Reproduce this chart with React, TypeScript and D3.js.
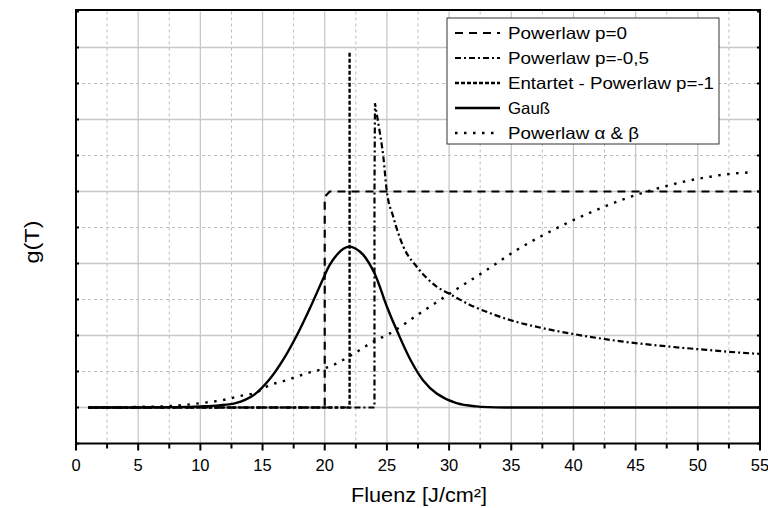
import React from "react";
import * as d3 from "d3";

const xTicks = [0, 5, 10, 15, 20, 25, 30, 35, 40, 45, 50, 55];
const xMinor = [2.5, 7.5, 12.5, 17.5, 22.5, 27.5, 32.5, 37.5, 42.5, 47.5, 52.5];
const yMajor = [0, 0.2, 0.4, 0.6, 0.8, 1.0];
const yMinor = [0.1, 0.3, 0.5, 0.7, 0.9];
const yAxisTicks = [-0.1, 0, 0.1, 0.2, 0.3, 0.4, 0.5, 0.6, 0.7, 0.8, 0.9, 1.0, 1.1];

const p0X = [1, 20, 20, 20.4, 55];
const p0Y = [0, 0, 0.585, 0.6, 0.6];

const pHalfX = [1, 24, 24, 24.04, 24.31, 24.71, 24.98, 25.51, 26.32, 27.4, 29.0, 30.07, 31.68, 33.3, 34.9, 37.58, 40.0, 44.0, 47.76, 50.7, 54.46, 55];
const pHalfY = [0, 0, 0.6, 0.845, 0.789, 0.697, 0.604, 0.53, 0.447, 0.391, 0.336, 0.315, 0.285, 0.262, 0.243, 0.22, 0.204, 0.183, 0.169, 0.16, 0.15, 0.149];

const entX = [1, 22, 22];
const entY = [0, 0, 0.99];

const gaussX = [1, 5, 8, 10, 11.5, 12.9, 14.3, 15.6, 16.7, 17.75, 18.8, 19.9, 20.4, 21.0, 21.5, 22, 22.5, 23.1, 24.0, 25.0, 25.9, 26.9, 27.9, 29.0, 30.6, 32.2, 34.5, 40, 55];
const gaussY = [0, 0, 0.001, 0.003, 0.006, 0.013, 0.035, 0.08, 0.135, 0.2, 0.275, 0.36, 0.396, 0.425, 0.441, 0.447, 0.441, 0.424, 0.373, 0.28, 0.206, 0.132, 0.076, 0.039, 0.012, 0.003, 0, 0, 0];

const abX = [1, 5.4, 7.56, 8.63, 10.24, 11.85, 13.19, 14.53, 15.33, 16.94, 18.55, 20.02, 20.69, 22.03, 23.91, 25.25, 27.66, 30.07, 33.02, 35.44, 37.58, 39.72, 41.87, 44.0, 46.82, 48.83, 50.98, 52.59, 54.2];
const abY = [0, 0.002, 0.004, 0.007, 0.013, 0.021, 0.032, 0.042, 0.058, 0.076, 0.095, 0.109, 0.118, 0.143, 0.183, 0.206, 0.262, 0.317, 0.382, 0.4375, 0.479, 0.516, 0.549, 0.578, 0.609, 0.627, 0.641, 0.649, 0.653];

const seriesNames = ["Powerlaw p=0", "Powerlaw p=-0,5", "Entartet - Powerlaw p=-1", "Gauß", "Powerlaw α & β"];
const legendWidths = [119, 141, 206, 42, 131];

export default function App() {
  const W = 768, H = 508;
  const left = 76, right = 760, top = 11.5, bottom = 443.5;
  const x = d3.scaleLinear().domain([0, 55]).range([left, right]);
  const y = d3.scaleLinear().domain([-0.1, 1.1]).range([bottom, top]);

  const mk = (xs: number[], ys: number[]) => xs.map((v, i) => [v, ys[i]] as [number, number]);
  const straight = d3.line<[number, number]>().x(d => x(d[0])).y(d => y(d[1]));
  const smooth = d3.line<[number, number]>().x(d => x(d[0])).y(d => y(d[1])).curve(d3.curveMonotoneX);
  const cr = d3.line<[number, number]>().x(d => x(d[0])).y(d => y(d[1])).curve(d3.curveCatmullRom.alpha(0.5));

  const halfPts = mk(pHalfX, pHalfY);
  const halfPath = (straight(halfPts.slice(0, 4)) || "") + (smooth(halfPts.slice(3)) || "").replace(/^M/, "L");

  const gPts = mk(gaussX, gaussY);
  const gaussPath = (cr(gPts.slice(0, 27)) || "") + (straight(gPts.slice(26)) || "").replace(/^M/, "L");

  const series = [
    { d: straight(mk(p0X, p0Y)), dash: "8,6", w: 2.2 },
    { d: halfPath, dash: "6,3,2,3", w: 2.2 },
    { d: straight(mk(entX, entY)), dash: "4,2", w: 2.4 },
    { d: gaussPath, dash: undefined, w: 2.4 },
    { d: smooth(mk(abX, abY)), dash: "2.5,6.5", w: 2.4 },
  ];

  const font = "Arial, 'Liberation Sans', Helvetica, sans-serif";
  const legX = 447, legY = 18, legW = 272, legH = 126;

  return (
    <svg width={W} height={H} style={{ position: "absolute", left: 0, top: 0 }} fontFamily={font}>
      <rect width={W} height={H} fill="#fff" />
      {xMinor.map(t => (
        <line key={"xm" + t} x1={x(t)} x2={x(t)} y1={top} y2={bottom} stroke="#bdbdbd" strokeDasharray="3,3" strokeWidth={1} />
      ))}
      {yMinor.map(t => (
        <line key={"ym" + t} x1={left} x2={right} y1={y(t)} y2={y(t)} stroke="#bdbdbd" strokeDasharray="3,3" strokeWidth={1} />
      ))}
      {xTicks.slice(1, -1).map(t => (
        <line key={"xg" + t} x1={x(t)} x2={x(t)} y1={top} y2={bottom} stroke="#c8c8c8" strokeWidth={1.3} />
      ))}
      {yMajor.map(t => (
        <line key={"yg" + t} x1={left} x2={right} y1={y(t)} y2={y(t)} stroke="#c8c8c8" strokeWidth={1.3} />
      ))}
      {series.map((s, i) => (
        <path key={i} d={s.d || ""} fill="none" stroke="#000" strokeWidth={s.w} strokeDasharray={s.dash} />
      ))}
      <rect x={left} y={top - 1.5} width={right - left} height={bottom - top + 1.5} fill="none" stroke="#000" strokeWidth={2} />
      {xTicks.map(t => (
        <g key={"xt" + t}>
          <line x1={x(t)} x2={x(t)} y1={bottom} y2={bottom + 7} stroke="#000" strokeWidth={2} />
          <text x={x(t)} y={bottom + 27} textAnchor="middle" fontSize={16.5} fill="#000">{t}</text>
        </g>
      ))}
      {xMinor.map(t => (
        <line key={"xmt" + t} x1={x(t)} x2={x(t)} y1={bottom} y2={bottom + 5} stroke="#000" strokeWidth={2} />
      ))}
      {yAxisTicks.map(t => (
        <g key={"yt" + t}>
          <line x1={left} x2={left + 3} y1={y(t)} y2={y(t)} stroke="#000" strokeWidth={2} />
          <line x1={right} x2={right - 3} y1={y(t)} y2={y(t)} stroke="#000" strokeWidth={2} />
        </g>
      ))}
      <text x={351} y={502} fontSize={19.5} fill="#000" textLength={136} lengthAdjust="spacingAndGlyphs">Fluenz [J/cm²]</text>
      <text transform={`translate(39,263.5) rotate(-90)`} fontSize={19.5} fill="#000" textLength={43} lengthAdjust="spacingAndGlyphs">g(T)</text>
      <rect x={legX} y={legY} width={legW} height={legH} fill="#fff" stroke="#333" strokeWidth={1} />
      {seriesNames.map((n, i) => {
        const cy = legY + 15 + i * 25;
        return (
          <g key={n}>
            <line x1={legX + 8} x2={legX + 53} y1={cy} y2={cy} stroke="#000" strokeWidth={series[i].w} strokeDasharray={series[i].dash} />
            <text x={legX + 61} y={cy + 6} fontSize={16.5} fill="#000" textLength={legendWidths[i]} lengthAdjust="spacingAndGlyphs">{n}</text>
          </g>
        );
      })}
    </svg>
  );
}
